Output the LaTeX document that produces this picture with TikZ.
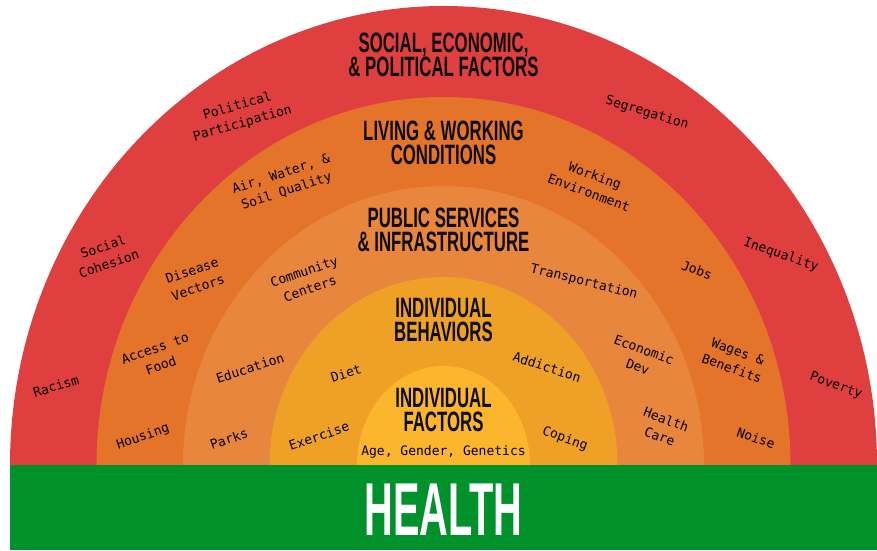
\documentclass[tikz,border=0pt]{standalone}
\usepackage{fontspec}
\usepackage{xcolor}
\usepackage{tikz}

\newfontfamily\labelfont{DejaVu Sans Mono}
\newfontfamily\headfont[FakeStretch=0.6]{Liberation Sans}
\newfontfamily\bigfont[FakeStretch=0.53]{Liberation Sans}

\definecolor{socialred}{HTML}{E03F3F}
\definecolor{livingorange}{HTML}{E3742A}
\definecolor{publicorange}{HTML}{E8863E}
\definecolor{behavyellow}{HTML}{EEA126}
\definecolor{factyellow}{HTML}{FBB62D}
\definecolor{healthgreen}{HTML}{00912A}

\begin{document}
\begin{tikzpicture}[x=1pt, y=1pt,
  lbl/.style={font=\fontsize{13}{18}\selectfont\labelfont, align=center, inner sep=0pt},
  hdg/.style={font=\fontsize{28}{24}\selectfont\headfont\bfseries, align=center, inner sep=0pt, text=black!95}]

\useasboundingbox (0,0) rectangle (877,550);

% rings, outside in
\fill [socialred] (10,85) arc [start angle=180, end angle=0, x radius=433.5, y radius=459] -- cycle;
\fill [livingorange] (96.5,85) arc [start angle=180, end angle=0, x radius=347, y radius=368] -- cycle;
\fill [publicorange] (183,85) arc [start angle=180, end angle=0, x radius=260.5, y radius=279] -- cycle;
\fill [behavyellow] (269.5,85) arc [start angle=180, end angle=0, x radius=174, y radius=188] -- cycle;
\fill [factyellow] (357,85) arc [start angle=180, end angle=0, x radius=86.5, y radius=99] -- cycle;

% base bar
\fill [healthgreen] (10,0) rectangle (877,85);
\node [font=\fontsize{75}{75}\selectfont\bigfont\bfseries, text=white, inner sep=0pt] (health) at (443.5,40) {HEALTH};

% ring titles
\node [hdg] (social) at (443.5,495) {SOCIAL, ECONOMIC,\\\& POLITICAL FACTORS};
\node [hdg] (living) at (443.5,407) {LIVING \& WORKING\\CONDITIONS};
\node [hdg] (public) at (443.5,320) {PUBLIC SERVICES\\\& INFRASTRUCTURE};
\node [hdg] (behav) at (443.5,230) {INDIVIDUAL\\BEHAVIORS};
\node [hdg] (factors) at (443.5,140) {INDIVIDUAL\\FACTORS};
\node [lbl] (age) at (443.5,98) {Age, Gender, Genetics};

% social, economic & political
\node [lbl, rotate=16] (politic) at (240,435) {Political\\Participation};
\node [lbl, rotate=-17] (segreg) at (647,437) {Segregation};
\node [lbl, rotate=19] (cohesion) at (106,295) {Social\\Cohesion};
\node [lbl, rotate=-19] (inequal) at (781,295) {Inequality};
\node [lbl, rotate=17] (racism) at (56,164) {Racism};
\node [lbl, rotate=-20] (poverty) at (836,164) {Poverty};

% living & working
\node [lbl, rotate=18] (air) at (284,367) {Air, Water, \&\\Soil Quality};
\node [lbl, rotate=-20] (workenv) at (592,366) {Working\\Environment};
\node [lbl, rotate=19] (disease) at (195,271) {Disease\\Vectors};
\node [lbl, rotate=-20] (jobs) at (697,280) {Jobs};
\node [lbl, rotate=19] (food) at (158,193) {Access to\\Food};
\node [lbl, rotate=-20] (wages) at (735,190) {Wages \&\\Benefits};
\node [lbl, rotate=19] (housing) at (143,113) {Housing};
\node [lbl, rotate=-19] (noise) at (756,112) {Noise};

% public services
\node [lbl, rotate=19] (community) at (307,270) {Community\\Centers};
\node [lbl, rotate=-14] (transport) at (584,268) {Transportation};
\node [lbl, rotate=18] (educ) at (250,182) {Education};
\node [lbl, rotate=-20] (econdev) at (641,192) {Economic\\Dev};
\node [lbl, rotate=19] (parks) at (229,111) {Parks};
\node [lbl, rotate=-21] (hcare) at (663,122) {Health\\Care};

% behaviors
\node [lbl, rotate=18] (diet) at (346,177) {Diet};
\node [lbl, rotate=-18] (addict) at (547,183) {Addiction};
\node [lbl, rotate=19] (exercise) at (319,114) {Exercise};
\node [lbl, rotate=-20] (coping) at (565,111) {Coping};

\end{tikzpicture}
\end{document}
